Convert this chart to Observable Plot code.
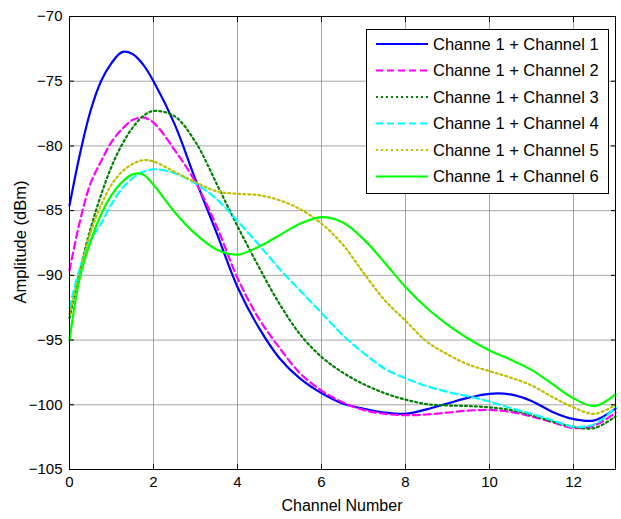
<!DOCTYPE html>
<html><head><meta charset="utf-8">
<script src="https://cdn.jsdelivr.net/npm/d3@7"></script>
<script src="https://cdn.jsdelivr.net/npm/@observablehq/plot@0.6"></script>
<style>
body{margin:0;background:#fff;}
#chart svg{display:block;}
</style>
</head><body><div id="chart"></div>
<script>
// Data
const channels = [0,0.25,0.5,0.75,1,1.25,1.5,1.75,2,2.5,3,3.5,4,4.5,5,5.5,6,6.5,7,7.5,8,8.5,9,9.5,10,10.5,11,11.5,12,12.5,13];
const ch1 = [-84.6,-80.6,-77.3,-75.0,-73.6,-72.75,-72.9,-73.7,-75.0,-78.3,-82.6,-86.7,-90.9,-94.0,-96.4,-98.0,-99.1,-99.9,-100.3,-100.6,-100.7,-100.35,-99.9,-99.45,-99.15,-99.2,-99.7,-100.55,-101.1,-101.2,-100.3];
const ch2 = [-89.6,-85.8,-82.9,-81.2,-79.7,-78.7,-78.0,-77.8,-78.2,-80.3,-82.8,-86.2,-90.2,-93.3,-95.6,-97.6,-98.9,-99.8,-100.4,-100.7,-100.8,-100.75,-100.6,-100.45,-100.4,-100.55,-100.9,-101.35,-101.8,-101.6,-100.6];
const ch3 = [-93.3,-89.6,-86.4,-83.8,-81.6,-79.9,-78.6,-77.7,-77.3,-77.7,-79.7,-82.9,-86.2,-89.3,-92.2,-94.6,-96.3,-97.5,-98.4,-99.1,-99.6,-99.95,-100.05,-100.1,-100.2,-100.4,-100.8,-101.3,-101.7,-101.8,-100.9];
const ch4 = [-92.5,-89.4,-87.3,-86.0,-84.5,-83.3,-82.5,-82.0,-81.8,-82.1,-82.9,-84.1,-85.8,-87.6,-89.5,-91.2,-92.9,-94.6,-96.0,-97.2,-97.95,-98.55,-99.0,-99.35,-99.75,-100.25,-100.7,-101.2,-101.7,-101.5,-100.2];
const ch5 = [-93.0,-89.8,-86.7,-84.6,-83.0,-82.0,-81.4,-81.1,-81.2,-82.0,-82.8,-83.5,-83.7,-83.8,-84.2,-84.9,-86.0,-87.6,-89.8,-91.9,-93.5,-95.1,-96.1,-96.9,-97.4,-97.9,-98.5,-99.4,-100.2,-100.7,-100.0];
const ch6 = [-95.0,-90.1,-87.4,-85.3,-83.8,-82.8,-82.2,-82.2,-83.0,-85.1,-86.8,-88.0,-88.4,-87.8,-86.9,-86.0,-85.5,-85.9,-87.2,-89.0,-90.9,-92.5,-93.8,-94.9,-95.8,-96.5,-97.3,-98.4,-99.5,-100.1,-99.2];

const seriesNames = ["Channe 1 + Channel 1","Channe 1 + Channel 2","Channe 1 + Channel 3","Channe 1 + Channel 4","Channe 1 + Channel 5","Channe 1 + Channel 6"];
const seriesColors = ["#0000ff","#ff00ff","#008000","#00ffff","#bfbf00","#00ff00"];
const seriesDash = [null,"7,4","2,3","7,4","2,3",null];
const xTicks = [0,2,4,6,8,10,12];
const yTicks = [-105,-100,-95,-90,-85,-80,-75,-70];
const xTitle = "Channel Number";
const yTitle = "Amplitude (dBm)";

const allSeries = [ch1,ch2,ch3,ch4,ch5,ch6];
const rows = [];
allSeries.forEach((vals,i)=>vals.forEach((v,j)=>rows.push({s:i, name:seriesNames[i], x:channels[j], y:v})));

const W = 621, H = 519;
const font = "'Liberation Sans', Arial, sans-serif";

const plot = Plot.plot({
  width: W, height: H,
  marginLeft: 69, marginRight: 6, marginTop: 16, marginBottom: 50,
  style: {fontFamily: font, fontSize: "15px", background: "white", color: "black"},
  x: {domain: [0, 13]},
  y: {domain: [-105, -70]},
  marks: [
    Plot.gridX(xTicks, {stroke: "#808080", strokeOpacity: 0.7}),
    Plot.gridY(yTicks, {stroke: "#808080", strokeOpacity: 0.7}),
    ...allSeries.map((_, i) => Plot.line(rows.filter(d => d.s === i), {
      x: "x", y: "y", stroke: seriesColors[i], strokeWidth: 2.2,
      strokeDasharray: seriesDash[i], curve: "catmull-rom"
    })),
    Plot.frame({stroke: "black", strokeWidth: 1}),
    Plot.axisX(xTicks, {anchor: "bottom", tickSize: -5, tickPadding: 12, label: null, fontSize: 15}),
    Plot.axisX(xTicks, {anchor: "top", tickSize: -5, tickFormat: () => "", label: null}),
    Plot.axisY(yTicks, {anchor: "left", tickSize: -5, tickPadding: 12, label: null, fontSize: 15}),
    Plot.axisY(yTicks, {anchor: "right", tickSize: -5, tickFormat: () => "", label: null})
  ]
});
document.getElementById("chart").appendChild(plot);

const svg = d3.select(plot);
// axis titles
svg.append("text").attr("x", 342).attr("y", 511).attr("text-anchor", "middle")
  .attr("font-family", font).attr("font-size", 16).attr("fill", "black").text(xTitle);
svg.append("text").attr("transform", "translate(26,242) rotate(-90)").attr("text-anchor", "middle")
  .attr("font-family", font).attr("font-size", 16.5).attr("fill", "black").text(yTitle);

// legend
const lg = svg.append("g");
lg.append("rect").attr("x", 366.5).attr("y", 29.5).attr("width", 242).attr("height", 164)
  .attr("fill", "white").attr("stroke", "black");
seriesNames.forEach((name, i) => {
  const yy = 44 + 26.5 * i;
  lg.append("line").attr("x1", 376).attr("x2", 428).attr("y1", yy).attr("y2", yy)
    .attr("stroke", seriesColors[i]).attr("stroke-width", 2.2)
    .attr("stroke-dasharray", seriesDash[i] || null);
  lg.append("text").attr("x", 433).attr("y", yy).attr("dy", "0.35em").attr("text-anchor", "start")
    .attr("font-family", font).attr("font-size", 16.5).attr("fill", "black").text(name);
});
</script>
</body></html>
